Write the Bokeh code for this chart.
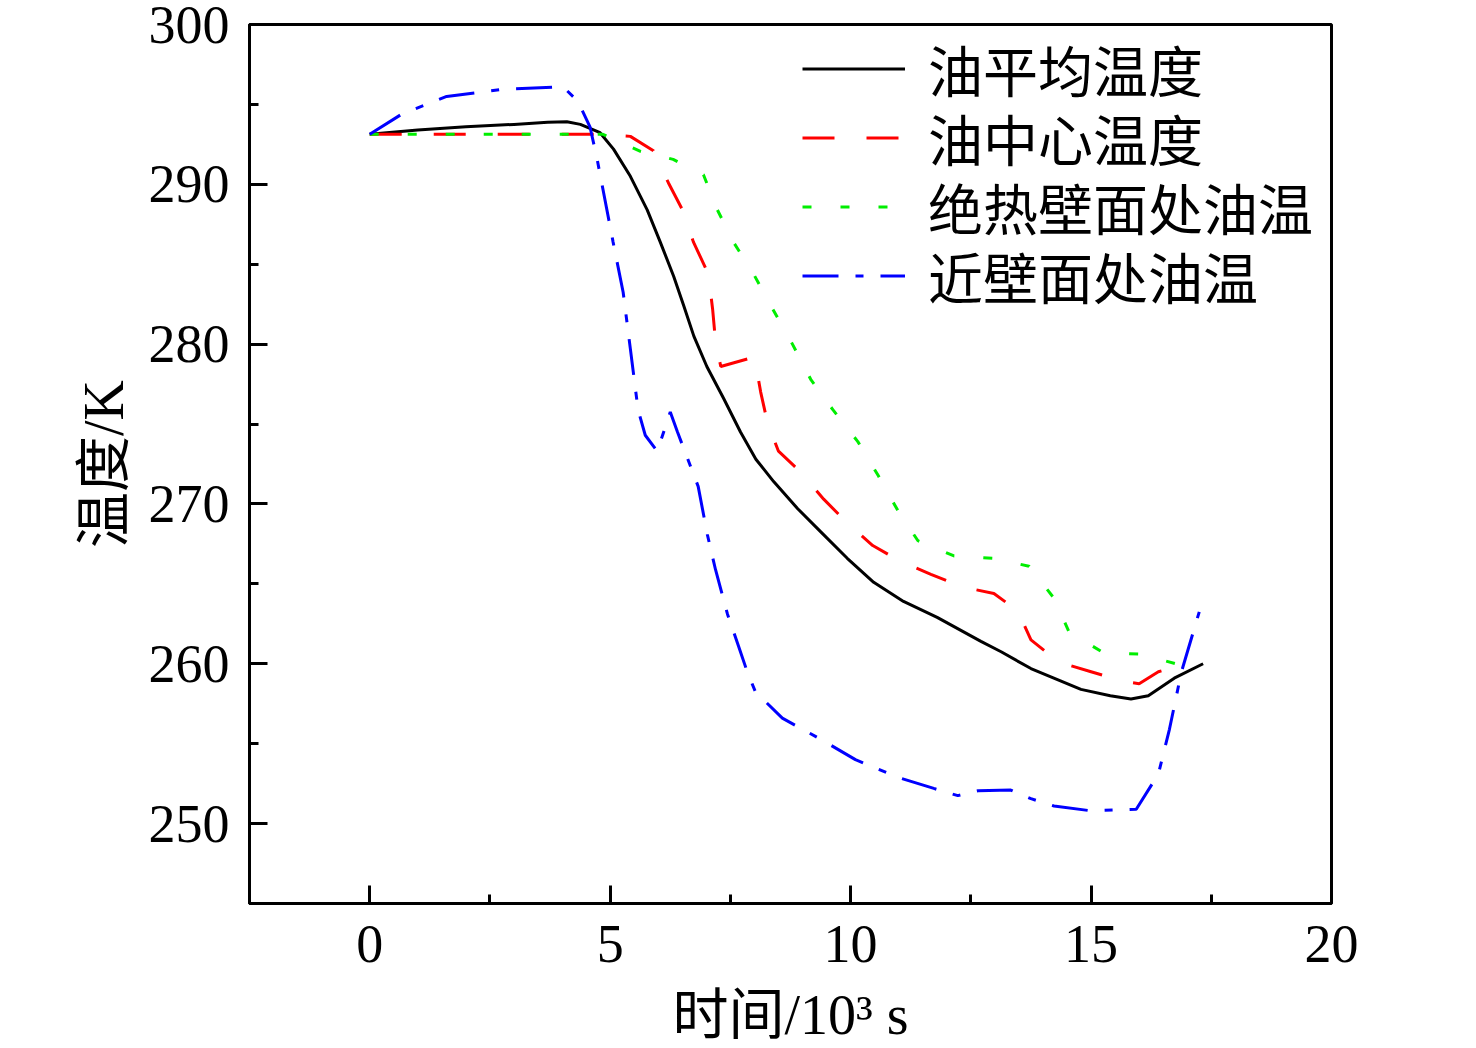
from bokeh.plotting import figure
from bokeh.models import FixedTicker, Legend, LegendItem
from bokeh.embed import file_html
from bokeh.resources import INLINE

# ---- data (time in 10^3 s, temperature in K) ----
avg_x = [0, 1.0, 2.0, 3.0, 3.7, 4.1, 4.38, 4.79, 5.07, 5.42, 5.77, 6.04, 6.32, 6.53, 6.74, 7.01, 7.36, 7.71,
         8.03, 8.4, 8.9, 9.38, 9.93, 10.48, 11.1, 11.8, 12.71, 13.13, 13.75, 14.79, 15.4, 15.83, 16.19, 16.73, 17.33]
avg_y = [293.13, 293.4, 293.6, 293.75, 293.88, 293.92, 293.75, 293.23, 292.2, 290.5, 288.4, 286.4, 284.25, 282.4, 280.5, 278.6, 276.6, 274.5,
         272.8, 271.4, 269.7, 268.25, 266.6, 265.1, 263.9, 262.9, 261.4, 260.75, 259.7, 258.4, 258.0, 257.8, 258.0, 259.1, 260.0]

center_x = [0, 4.73, 5.42, 5.9, 6.21, 6.52, 6.73, 7.04, 7.13, 7.19, 7.3, 8.0, 8.13, 8.27, 8.5, 8.96,
            9.44, 9.9, 10.46, 11.04, 11.67, 12.33, 12.98, 13.48, 13.75, 14.33, 15.0, 15.67, 16.0, 16.4, 17.0]
center_y = [293.13, 293.13, 293.0, 292.1, 290.1, 288.3, 286.4, 284.4, 282.2, 280.2, 278.6, 279.2, 277.0, 275.1, 273.3, 272.0,
            270.3, 268.9, 267.4, 266.4, 265.6, 264.8, 264.4, 263.3, 261.5, 260.1, 259.5, 258.9, 258.75, 259.5, 260.0]

adiab_x = [0, 4.85, 5.63, 6.31, 6.94, 7.23, 7.56, 7.98, 8.38, 8.79, 9.17, 9.63, 10.15, 10.58, 10.98,
           11.4, 12.15, 12.98, 13.71, 14.23, 14.54, 15.25, 16.04, 16.88]
adiab_y = [293.13, 293.13, 292.06, 291.56, 290.6, 288.4, 286.4, 284.4, 282.2, 280.0, 277.8, 275.9, 273.9, 271.75, 269.6,
           267.7, 266.75, 266.6, 266.1, 264.1, 262.0, 260.7, 260.6, 259.9]

wall_x = [0, 0.67, 1.6, 2.77, 4.02, 4.33, 4.58, 4.73, 5.06, 5.27, 5.42, 5.58, 5.73, 5.98, 6.25, 6.4, 6.83,
          7.02, 7.19, 7.44, 7.67, 7.85, 8.02, 8.58, 9.42, 10.1, 10.98, 11.73, 12.23, 12.65, 13.33, 13.75,
          14.23, 15.0, 15.94, 16.4, 16.63, 16.88, 17.25]
wall_y = [293.13, 294.4, 295.5, 295.94, 296.1, 295.2, 293.6, 291.56, 286.4, 283.25, 279.7, 275.9, 274.3, 273.3, 275.75, 274.5, 271.1,
          268.1, 265.9, 263.1, 261.1, 259.5, 258.25, 256.6, 255.2, 254.0, 252.9, 252.2, 251.75, 252.06, 252.1, 251.56,
          251.1, 250.8, 250.9, 253.1, 255.9, 259.5, 263.25]

series_names = ["油平均温度", "油中心温度", "绝热壁面处油温", "近壁面处油温"]
x_ticks = [0, 5, 10, 15, 20]
x_minor = [-2.5, 2.5, 7.5, 12.5, 17.5]
y_ticks = [250, 260, 270, 280, 290, 300]
y_minor = [245, 255, 265, 275, 285, 295]

SERIF = "Liberation Serif"
MIXED = "Liberation Serif, Noto Sans CJK SC"

p = figure(frame_width=1082, frame_height=879,
           x_range=(-2.5, 20), y_range=(245, 300),
           output_backend="svg", toolbar_location=None,
           min_border_left=249, min_border_top=24, min_border_right=137, min_border_bottom=143,
           x_axis_label="时间/10³ s", y_axis_label="温度/K")
p.grid.visible = False
p.outline_line_color = "black"
p.outline_line_width = 3
p.outline_line_alpha = 1.0

for ax in (p.xaxis[0], p.yaxis[0]):
    ax.axis_line_width = 3
    ax.major_tick_line_width = 3
    ax.minor_tick_line_width = 3
    ax.major_tick_in = 18
    ax.major_tick_out = 0
    ax.minor_tick_in = 9
    ax.minor_tick_out = 0
    ax.major_label_text_font = SERIF
    ax.major_label_text_font_size = "54px"
    ax.major_label_text_color = "black"
    ax.axis_label_text_font = MIXED
    ax.axis_label_text_font_size = "56px"
    ax.axis_label_text_font_style = "normal"
    ax.axis_label_text_color = "black"

p.xaxis.ticker = FixedTicker(ticks=x_ticks, minor_ticks=x_minor)
p.yaxis.ticker = FixedTicker(ticks=y_ticks, minor_ticks=y_minor)
p.xaxis.major_label_standoff = 22
p.yaxis.major_label_standoff = 20
p.xaxis.axis_label_standoff = 19
p.yaxis.axis_label_standoff = 11

r_avg = p.line(avg_x, avg_y, line_color="black", line_width=3, line_join="round")
r_center = p.line(center_x, center_y, line_color="#FF0000", line_width=3, line_dash="32 32")
r_adiab = p.line(adiab_x, adiab_y, line_color="#00EE00", line_width=3, line_dash="9 29")
r_wall = p.line(wall_x, wall_y, line_color="#0000FF", line_width=3, line_dash="36 17 8 17")

renderers = [r_avg, r_center, r_adiab, r_wall]
legend_vy = [795, 726, 657, 588]
for name, rend, vy in zip(series_names, renderers, legend_vy):
    lg = Legend(items=[LegendItem(label=name, renderers=[rend])],
                location=(553, vy), padding=0, margin=0, spacing=0,
                glyph_width=103, glyph_height=69, label_height=69, label_standoff=23,
                label_text_font=MIXED, label_text_font_size="55px", label_text_color="black",
                background_fill_alpha=0, border_line_alpha=0)
    p.add_layout(lg)

open("out.html", "w").write(file_html(p, INLINE))
